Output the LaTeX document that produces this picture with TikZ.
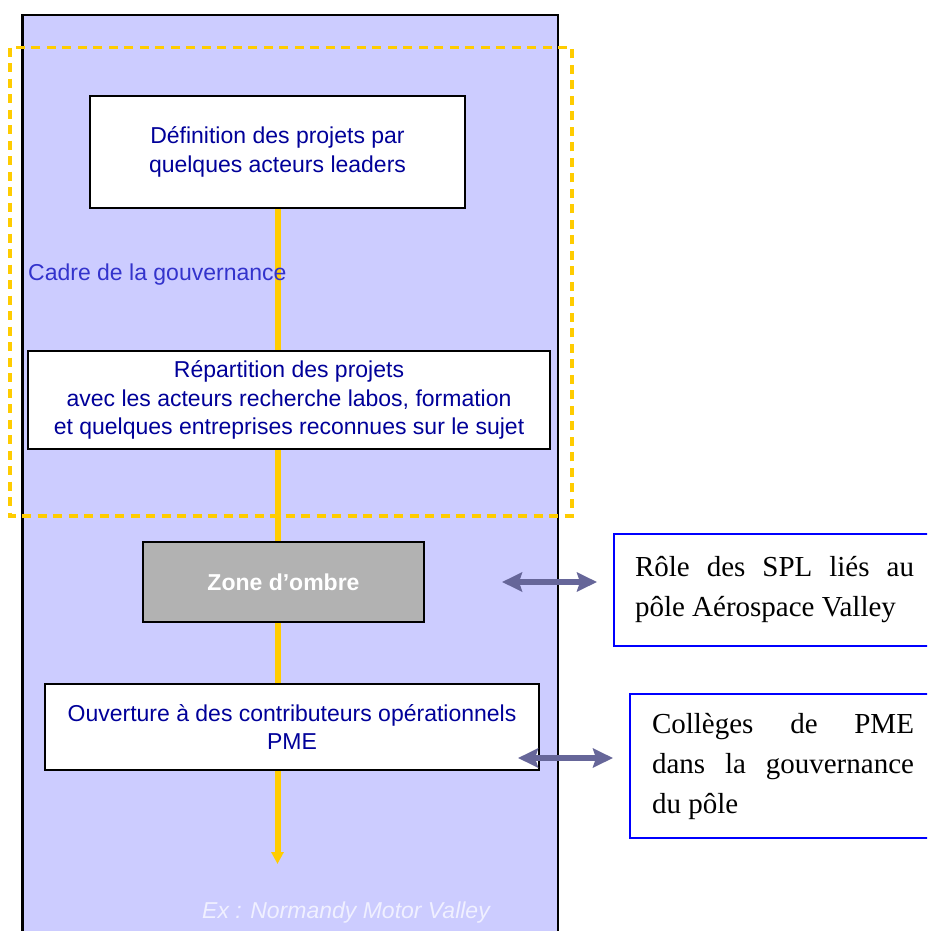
\documentclass[tikz,border=0pt]{standalone}
\usepackage{fontspec}
\setmainfont{Liberation Serif}
\newfontfamily\arialf{Liberation Sans}
\usetikzlibrary{arrows.meta}
\definecolor{lav}{HTML}{CCCCFF}
\definecolor{gold}{HTML}{FFCC00}
\definecolor{navyt}{HTML}{000099}
\definecolor{cadreblue}{HTML}{3333CC}
\definecolor{slate}{HTML}{666699}
\definecolor{shade}{HTML}{B2B2B2}
\definecolor{pale}{HTML}{F0F0FF}
\tikzset{
  stepbox/.style={draw=black, line width=2pt, fill=white, text=navyt,
    font=\arialf\fontsize{23}{28.5}\selectfont, align=center, inner sep=0pt},
  shadebox/.style={draw=black, line width=2pt, fill=shade, text=white,
    font=\arialf\bfseries\fontsize{23}{28}\selectfont, inner sep=0pt},
  bluebox/.style={draw=blue, line width=2pt, fill=white, text=black,
    font=\fontsize{29}{40}\selectfont, align=left, inner sep=0pt, anchor=west},
  flow/.style={draw=gold, line width=6pt},
  link/.style={draw=slate, line width=5.5pt,
    {Stealth[length=20pt,width=19pt,inset=3pt]}-{Stealth[length=20pt,width=19pt,inset=3pt]}},
}
\begin{document}
\begin{tikzpicture}[x=1pt,y=-1pt]
\useasboundingbox (0,0) rectangle (927,931);
\clip (0,0) rectangle (927,931);
% main frame
\draw[fill=lav, line width=2.5pt] (22.7,15) rectangle (558,950);
% governance frame
\draw[draw=gold, line width=3.2pt, dash pattern=on 9pt off 6.5pt] (10,47.7) rectangle (572,516);
% boxes
\node[stepbox, minimum width=375pt, minimum height=112pt] (def) at (277.5,152)
  {Définition des projets par\\quelques acteurs leaders};
\node[stepbox, minimum width=522pt, minimum height=98pt] (rep) at (289,400)
  {Répartition des projets\\avec les acteurs recherche labos, formation\\et quelques entreprises reconnues sur le sujet};
\node[shadebox, minimum width=281pt, minimum height=80pt] (zone) at (283.5,582)
  {Zone d’ombre};
\node[stepbox, minimum width=494pt, minimum height=86pt] (ouv) at (292,727)
  {Ouverture à des contributeurs opérationnels\\PME};
\coordinate (tip) at (277.5,864);
% flow line
\draw[flow] (def.south) -- (def.south |- rep.north);
\draw[flow] (def.south |- rep.south) -- (def.south |- zone.north);
\draw[flow] (def.south |- zone.south) -- (def.south |- ouv.north);
\draw[flow, -{Triangle[length=12pt,width=12pt]}] (def.south |- ouv.south) -- (tip);
% labels
\node[anchor=base west, inner sep=0pt, text=cadreblue, font=\arialf\fontsize{23}{28}\selectfont] (cadre) at (28,280) {Cadre de la gouvernance};
\node[anchor=base west, inner sep=0pt, text=pale, font=\arialf\itshape\fontsize{23}{28}\selectfont] (ex) at (202,918) {Ex : Normandy Motor Valley};
% side boxes
\node[bluebox, minimum width=321pt, minimum height=112pt] (spl) at (613,590)
  {\makebox[279pt][s]{Rôle des SPL liés au}\\pôle Aérospace Valley};
\node[bluebox, minimum width=306pt, minimum height=144pt] (col) at (629,766)
  {\makebox[262pt][s]{Collèges de PME}\\\makebox[262pt][s]{dans la gouvernance}\\du pôle};
% double arrows
\coordinate (a1l) at (502,582);
\coordinate (a1r) at (597,582);
\coordinate (a2l) at (518,758);
\coordinate (a2r) at (613,758);
\draw[link] (a1l) -- (a1r);
\draw[link] (a2l) -- (a2r);
\end{tikzpicture}
\end{document}
